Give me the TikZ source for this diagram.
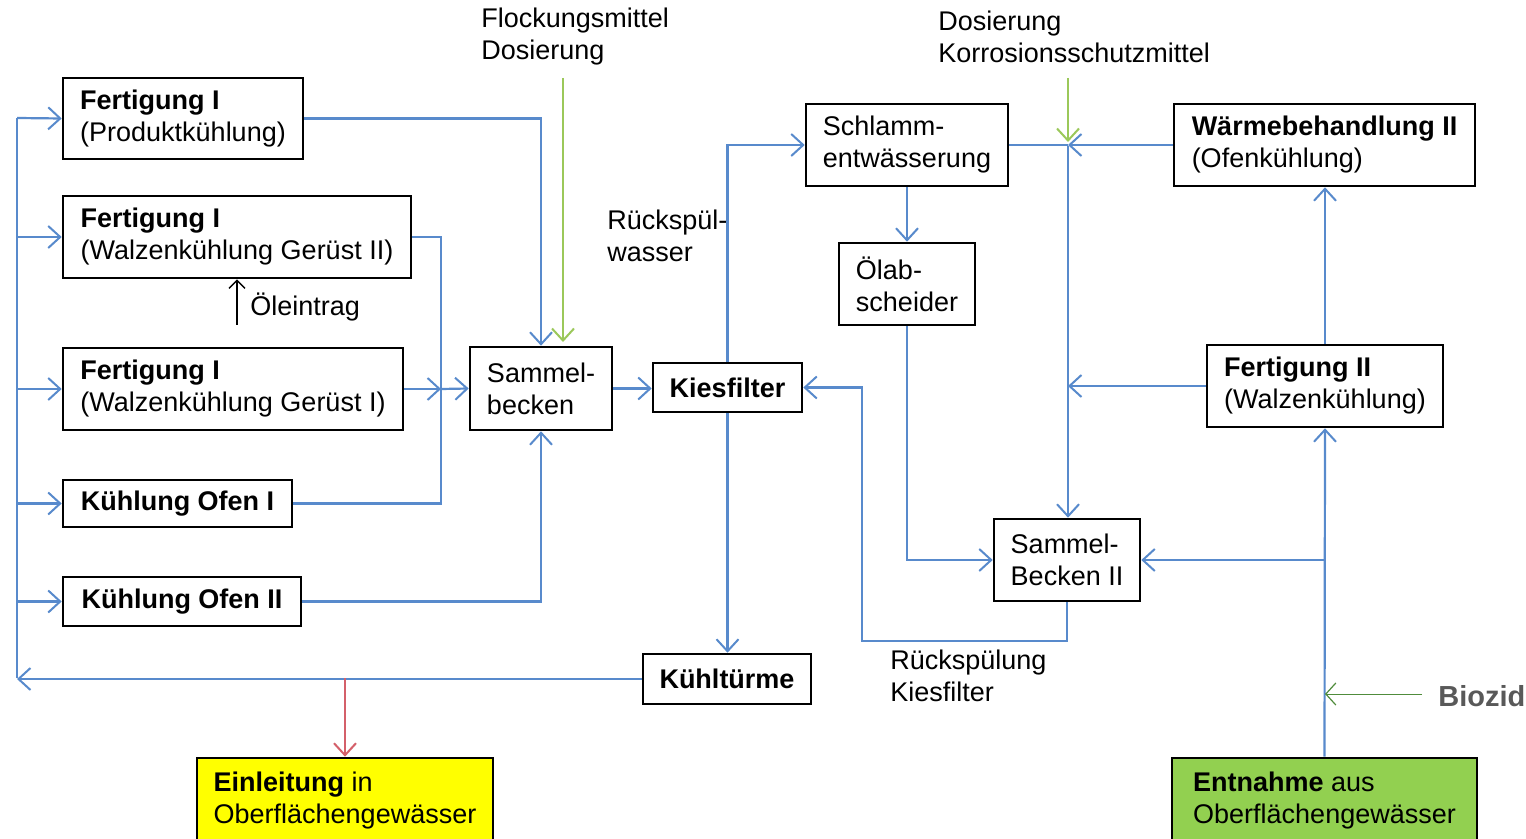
\documentclass[tikz,border=0pt]{standalone}
\usepackage{fontspec}
\setmainfont{Liberation Sans}
\usetikzlibrary{arrows.meta}
\definecolor{flowblue}{RGB}{88,138,204}
\definecolor{flowred}{RGB}{212,96,106}
\definecolor{dosegreen}{RGB}{155,200,90}
\definecolor{biogreen}{RGB}{80,140,60}
\definecolor{yellowfill}{RGB}{255,255,0}
\definecolor{greenfill}{RGB}{146,208,80}
\definecolor{biogray}{RGB}{89,89,89}
\newcommand{\fs}{\fontsize{13.5}{16}\selectfont}
\tikzset{
  box/.style={draw=black, line width=1.3pt, rectangle, align=left, inner sep=0pt, font=\fs},
  lbl/.style={align=left, inner sep=0pt, anchor=west, font=\fs},
  tip/.style={-{Straight Barb[length=6pt,width=11pt,line width=1pt]}},
  line/.style={draw=flowblue, line width=1.1pt},
  flow/.style={line, tip},
  redflow/.style={draw=flowred, line width=1pt, tip},
  greenflow/.style={draw=dosegreen, line width=1.1pt, tip},
  bioflow/.style={draw=biogreen, line width=0.5pt, -{Straight Barb[length=5pt,width=11pt,line width=0.6pt]}},
  blackflow/.style={draw=black, line width=0.7pt, -{Straight Barb[length=4pt,width=8pt,line width=0.7pt]}}
}
\begin{document}
\begin{tikzpicture}[x=0.5pt,y=-0.5pt]
\useasboundingbox (0,0) rectangle (1526,839);
\fill[white] (0,0) rectangle (1526,839);
\clip (0,0) rectangle (1526,839);
% boxes
\node[box, minimum width=120pt, minimum height=40.5pt] (f1) at (183,118.5) {\textbf{Fertigung I}\\(Produktkühlung)};
\node[box, minimum width=174pt, minimum height=41pt] (f2) at (237,237) {\textbf{Fertigung I}\\(Walzenkühlung Gerüst II)};
\node[box, minimum width=170pt, minimum height=41pt] (f3) at (233,389) {\textbf{Fertigung I}\\(Walzenkühlung Gerüst I)};
\node[box, minimum width=114.5pt, minimum height=23.5pt] (k1) at (177.5,503.5) {\textbf{Kühlung Ofen I}};
\node[box, minimum width=119pt, minimum height=24.5pt] (k2) at (182,601.5) {\textbf{Kühlung Ofen II}};
\node[box, minimum width=71pt, minimum height=41.5pt] (sb) at (541,388.5) {Sammel-\\becken};
\node[box, minimum width=74.5pt, minimum height=24.5pt] (kf) at (727.5,387.5) {\textbf{Kiesfilter}};
\node[box, minimum width=84pt, minimum height=25pt] (kt) at (727,679) {\textbf{Kühltürme}};
\node[box, minimum width=101pt, minimum height=41pt] (se) at (907,145) {Schlamm-\\entwässerung};
\node[box, minimum width=68pt, minimum height=41pt] (oa) at (907,284) {Ölab-\\scheider};
\node[box, minimum width=150.5pt, minimum height=41pt] (wb) at (1324.5,145) {\textbf{Wärmebehandlung II}\\(Ofenkühlung)};
\node[box, minimum width=118pt, minimum height=41pt] (f4) at (1325,386) {\textbf{Fertigung II}\\(Walzenkühlung)};
\node[box, minimum width=73pt, minimum height=41pt] (s2) at (1067,560) {Sammel-\\Becken II};
\node[box, fill=yellowfill, minimum width=148pt, minimum height=43pt] (ein) at (345,801) {\textbf{Einleitung} in\\Oberflächengewässer};
\node[box, fill=greenfill, minimum width=152.5pt, minimum height=43pt] (ent) at (1324.5,801) {\textbf{Entnahme} aus\\Oberflächengewässer};
% labels
\node[lbl] (lflock) at (481,36.5) {Flockungsmittel\\Dosierung};
\node[lbl] (lkorr) at (938,36.5) {Dosierung\\Korrosionsschutzmittel};
\node[lbl] (lrw) at (607,236) {Rückspül-\\wasser};
\node[lbl] (lrk) at (890,676) {Rückspülung\\Kiesfilter};
\node[lbl] (loel) at (250,307) {Öleintrag};
\node[lbl, text=biogray, font=\fontsize{14.5}{17}\selectfont\bfseries] (lbio) at (1438,696) {Biozid};
% coordinates
\coordinate (bl) at (17,678);
\coordinate (bt) at (17,118);
\coordinate (rj) at (345,678);
\coordinate (jx) at (441,389);
\coordinate (g1s) at (563,78);
\coordinate (g1e) at (563,342);
\coordinate (j2) at (1068,146);
\coordinate (g2s) at (1068,78);
\coordinate (g2e) at (1068,142);
\coordinate (r1) at (862,641);
\coordinate (bios) at (1422,694);
\coordinate (bioe) at (1325,694);
\coordinate (oe) at (237,325);
% left loop
\draw[flow] (kt.west) -- (kt.west -| bl);
\draw[line] (bl) -- (bt);
\draw[flow] (bt) -- (f1.west);
\draw[flow] (bl |- f2.west) -- (f2.west);
\draw[flow] (bl |- f3.west) -- (f3.west);
\draw[flow] (bl |- k1.west) -- (k1.west);
\draw[flow] (bl |- k2.west) -- (k2.west);
\draw[redflow] (rj) -- (ein.north);
% into Sammelbecken
\draw[flow] (f1.east) -| (sb.north);
\draw[line] (f2.east) -| (jx);
\draw[line] (k1.east) -| (jx);
\draw[flow] (f3.east) -- (jx);
\draw[flow] (jx) -- (sb.west);
\draw[flow] (k2.east) -| (sb.south);
\draw[greenflow] (g1s) -- (g1e);
% Kiesfilter
\draw[flow] (sb.east) -- (sb.east -| kf.west);
\draw[flow] (kf.north) |- (se.west);
\draw[flow] (kf.south) -- (kf.south |- kt.north);
% right part
\draw[flow] (se.south) -- (oa.north);
\draw[flow] (oa.south) |- (s2.west);
\draw[line] (se.east) -- (se.east -| j2);
\draw[flow] (wb.west) -- (wb.west -| j2);
\draw[flow] (j2) -- (j2 |- s2.north);
\draw[greenflow] (g2s) -- (g2e);
\draw[flow] (f4.west) -- (f4.west -| j2);
\draw[flow] (f4.north) -- (f4.north |- wb.south);
\draw[flow] (ent.north) -- (f4.south);
\draw[flow] (ent.north |- s2.east) -- (s2.east);
\draw[flow] (s2.south) |- (r1) |- (kf.east);
\draw[bioflow] (bios) -- (bioe);
\draw[blackflow] (oe) -- (oe |- f2.south);
\end{tikzpicture}
\end{document}
